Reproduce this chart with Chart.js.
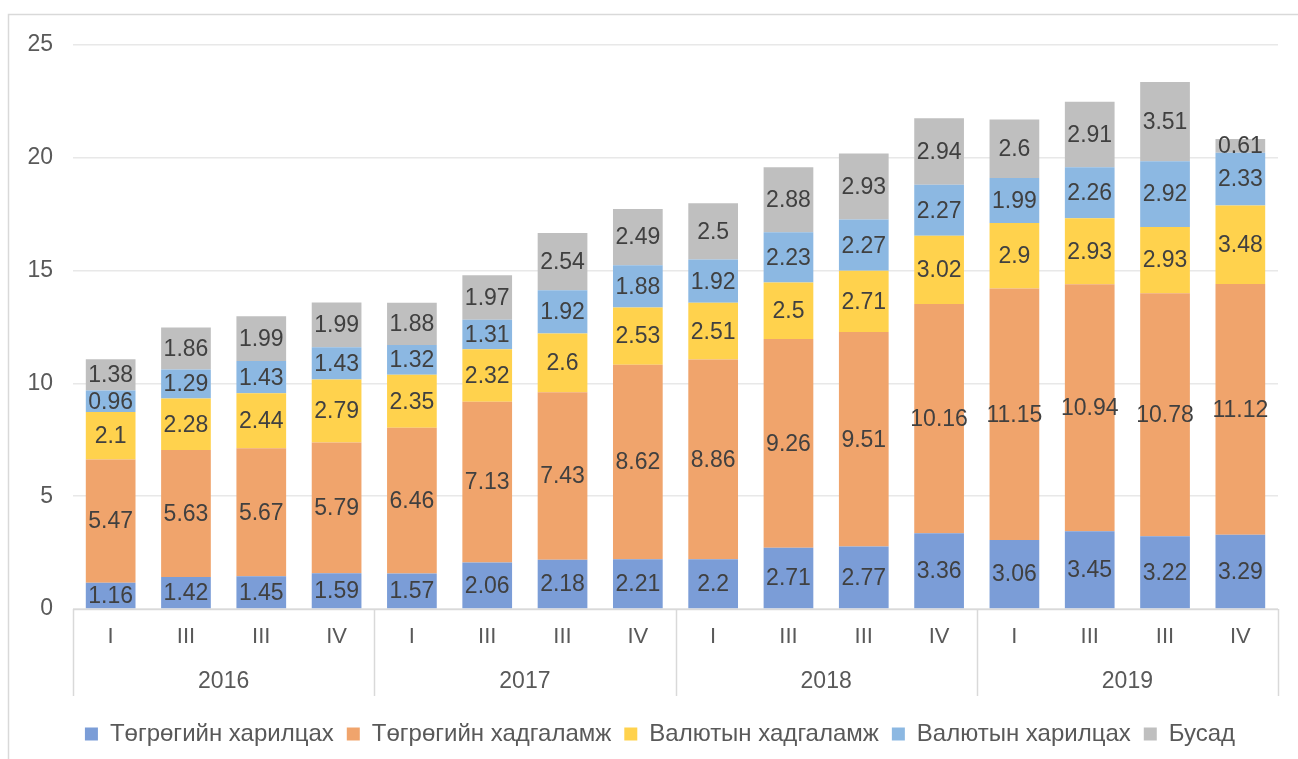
<!DOCTYPE html>
<html lang="mn">
<head>
  <meta charset="UTF-8">
  <title>Харилцах, хадгаламж</title>
  <script src="https://cdn.jsdelivr.net/npm/chart.js"></script>
  <style>
    html, body {
      margin: 0;
      padding: 0;
      background: #fff;
      overflow: hidden;
    }
    #wrap {
      position: absolute;
      left: 0;
      top: 0;
      width: 1298px;
      height: 759px;
    }
  </style>
</head>
<body>
  <div id="wrap"><canvas id="depChart"></canvas></div>

  <script>
    const quarters = ['I', 'III', 'III', 'IV', 'I', 'III', 'III', 'IV', 'I', 'III', 'III', 'IV', 'I', 'III', 'III', 'IV'];
    const years = ['2016', '2017', '2018', '2019'];

    const seriesNames = ['Төгрөгийн харилцах', 'Төгрөгийн хадгаламж', 'Валютын хадгаламж', 'Валютын харилцах', 'Бусад'];
    const mntCurrent = [1.16, 1.42, 1.45, 1.59, 1.57, 2.06, 2.18, 2.21, 2.2, 2.71, 2.77, 3.36, 3.06, 3.45, 3.22, 3.29];
    const mntSavings = [5.47, 5.63, 5.67, 5.79, 6.46, 7.13, 7.43, 8.62, 8.86, 9.26, 9.51, 10.16, 11.15, 10.94, 10.78, 11.12];
    const fxSavings = [2.1, 2.28, 2.44, 2.79, 2.35, 2.32, 2.6, 2.53, 2.51, 2.5, 2.71, 3.02, 2.9, 2.93, 2.93, 3.48];
    const fxCurrent = [0.96, 1.29, 1.43, 1.43, 1.32, 1.31, 1.92, 1.88, 1.92, 2.23, 2.27, 2.27, 1.99, 2.26, 2.92, 2.33];
    const other = [1.38, 1.86, 1.99, 1.99, 1.88, 1.97, 2.54, 2.49, 2.5, 2.88, 2.93, 2.94, 2.6, 2.91, 3.51, 0.61];

    const colors = ['#7b9dd7', '#f0a46c', '#ffd24d', '#8cb8e2', '#bfbfbf'];
    const FONT = '"Liberation Sans", Arial, sans-serif';

    // segment labels, centred in each bar piece
    const valueLabels = {
      id: 'valueLabels',
      afterDatasetsDraw(chart) {
        const ctx = chart.ctx;
        ctx.save();
        ctx.font = '23px ' + FONT;
        ctx.fillStyle = '#404040';
        ctx.textAlign = 'center';
        ctx.textBaseline = 'middle';
        chart.data.datasets.forEach((ds, i) => {
          chart.getDatasetMeta(i).data.forEach((bar, j) => {
            const y = (bar.y + bar.base) / 2;
            ctx.fillText(String(ds.data[j]), bar.x, y + 1);
          });
        });
        ctx.restore();
      }
    };

    // year row + group separators under the category axis, and the frame
    const yearAxis = {
      id: 'yearAxis',
      afterLayout(chart) {
        // legend sits a bit right of centre in the original
        chart.legend.left += 21;
        chart.legend.right += 21;
      },
      beforeDraw(chart) {
        const ctx = chart.ctx;
        ctx.save();
        ctx.strokeStyle = '#d9d9d9';
        ctx.lineWidth = 1.5;
        ctx.beginPath();
        ctx.moveTo(8.5, chart.height);
        ctx.lineTo(8.5, 14.5);
        ctx.lineTo(chart.width, 14.5);
        ctx.stroke();
        ctx.restore();
      },
      afterDraw(chart) {
        const ctx = chart.ctx;
        const x = chart.scales.x;
        const area = chart.chartArea;
        const half = (x.getPixelForValue(1) - x.getPixelForValue(0)) / 2;
        ctx.save();
        ctx.strokeStyle = '#d9d9d9';
        ctx.lineWidth = 1.5;
        ctx.beginPath();
        ctx.moveTo(area.left, area.bottom + 0.5);
        ctx.lineTo(area.right, area.bottom + 0.5);
        for (let g = 0; g <= years.length; g++) {
          const px = Math.round(x.getPixelForValue(g * 4) - half) + 0.5;
          ctx.moveTo(px, area.bottom);
          ctx.lineTo(px, area.bottom + 87);
        }
        ctx.stroke();
        ctx.font = '23px ' + FONT;
        ctx.fillStyle = '#595959';
        ctx.textAlign = 'center';
        ctx.textBaseline = 'middle';
        years.forEach((yr, g) => {
          const mid = (x.getPixelForValue(g * 4) + x.getPixelForValue(g * 4 + 3)) / 2;
          ctx.fillText(yr, mid, area.bottom + 73);
        });
        ctx.restore();
      }
    };

    const series = [mntCurrent, mntSavings, fxSavings, fxCurrent, other];

    new Chart(document.getElementById('depChart'), {
      type: 'bar',
      data: {
        labels: quarters,
        datasets: series.map((d, i) => ({
          label: seriesNames[i],
          data: d,
          backgroundColor: colors[i],
          borderWidth: 0,
          barPercentage: 0.66,
          categoryPercentage: 1
        }))
      },
      options: {
        responsive: true,
        maintainAspectRatio: false,
        animation: false,
        layout: { padding: { top: 45, right: 20, bottom: 3, left: 0 } },
        scales: {
          x: {
            stacked: true,
            grid: { display: false, drawTicks: false },
            border: { display: false },
            ticks: { color: '#595959', font: { size: 22, family: FONT }, padding: 15 },
            afterFit(scale) { scale.height = 100; }
          },
          y: {
            stacked: true,
            min: 0,
            max: 25,
            ticks: { stepSize: 5, color: '#595959', font: { size: 23, family: FONT }, padding: 20 },
            grid: { color: '#e8e8e8', lineWidth: 1.5, drawTicks: false },
            border: { display: false },
            afterFit(scale) { scale.width = 73; }
          }
        },
        plugins: {
          legend: {
            position: 'bottom',
            labels: {
              color: '#595959',
              font: { size: 24, family: FONT },
              boxWidth: 13,
              boxHeight: 13,
              padding: 13
            }
          },
          tooltip: { enabled: false }
        }
      },
      plugins: [valueLabels, yearAxis]
    });
  </script>
</body>
</html>
